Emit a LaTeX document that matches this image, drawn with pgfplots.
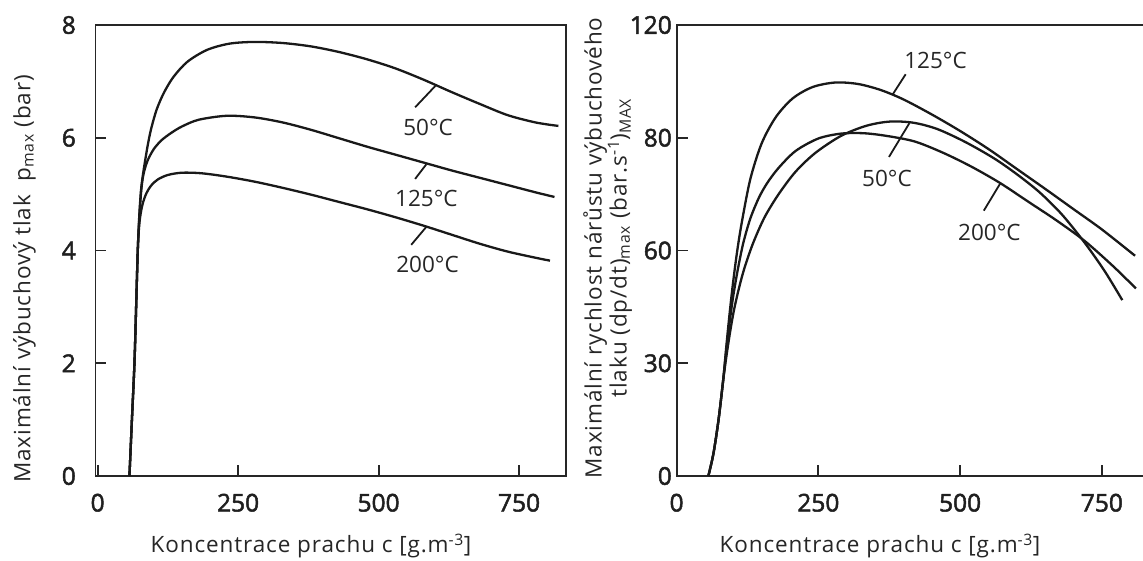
\documentclass[border=0pt]{standalone}
\usepackage{fontspec}
\setmainfont{Open Sans}[LetterSpace=4]
\newfontfamily\tickfont{Open Sans}[FakeBold=2]
\newfontfamily\labfont{Open Sans}
\usepackage{pgfplots}
\pgfplotsset{compat=1.18}
\pgfplotsset{
  myaxis/.style={
    scale only axis, height=451pt, ymin=0,
    axis line style={line width=1.8pt, color=black!85},
    tick align=inside, xtick pos=bottom, ytick pos=left,
    major tick length=11pt,
    every tick/.style={line width=1.8pt, black!85},
    tick label style={font=\tickfont\fontsize{24.5}{28}\selectfont, text=black!88},
    /pgf/number format/assume math mode=true,
    xticklabel style={anchor=base, yshift=-35.5pt, inner sep=0pt},
    xtick={0,250,500,750},
    label style={font=\fontsize{22.5}{23.5}\selectfont, text=black!85},
    clip=false,
  },
  curve/.style={line width=2.3pt, black!90, smooth, tension=0.5, no markers},
  lead/.style={line width=1.8pt, black!90, no markers},
}
\tikzset{lab/.style={font=\labfont\fontsize{22.5}{24}\selectfont, text=black!85, inner sep=0pt}}
\begin{document}
\begin{tikzpicture}
% ---------------- left panel ----------------
\begin{axis}[myaxis, at={(95.4pt,84pt)}, anchor=south west, width=470.6pt,
  xmin=-4, xmax=833.5, ymax=8, ytick={0,2,4,6,8},
  yticklabel style={anchor=east, inner sep=0pt, xshift=-19.4pt},
  xlabel={Koncentrace prachu c [g.m\textsuperscript{-3}]},
  xlabel style={at={(axis description cs:0.458,-0.1707)}, anchor=base},
  ylabel={Maximální výbuchový tlak\ \ p\textsubscript{max} (bar)},
  ylabel style={at={(axis description cs:-0.175,0.437)}, anchor=north, inner sep=0pt}]
% 50 C
\addplot[curve] coordinates {
(56.6,0) (61,1) (65.5,2) (68.5,3) (71.4,4) (74,4.6) (77,5.05) (80,5.3) (83.3,5.52)
(89,5.86) (95,6.15) (105,6.5) (118,6.8) (135,7.08) (160,7.35) (195,7.56) (235,7.67)
(280,7.70) (330,7.68) (380,7.62) (430,7.52) (480,7.39) (530,7.23) (580,7.03)
(630,6.81) (680,6.60) (730,6.40) (780,6.27) (820,6.21)};
% 125 C
\addplot[curve] coordinates {
(56.6,0) (61,1) (65.5,2) (68.5,3) (71.4,4) (74,4.55) (77,5.0) (80,5.27) (84,5.45)
(90,5.62) (100,5.8) (113,5.95) (130,6.08) (150,6.2) (180,6.32) (230,6.39) (280,6.36)
(330,6.27) (380,6.14) (430,5.99) (480,5.84) (530,5.70) (580,5.56) (630,5.42)
(680,5.29) (730,5.16) (780,5.03) (813,4.95)};
% 200 C
\addplot[curve] coordinates {
(56.6,0) (61,1) (65.5,2) (68.5,3) (71.4,4) (74,4.45) (77,4.68) (81,4.86) (87,5.02)
(95,5.15) (107,5.26) (125,5.34) (150,5.38) (185,5.37) (230,5.31) (280,5.22)
(330,5.11) (380,4.99) (430,4.86) (480,4.73) (530,4.59) (580,4.44) (630,4.28)
(680,4.12) (730,3.98) (780,3.87) (805,3.82)};
% leaders
\addplot[lead] coordinates {(565,6.54) (601,6.92)};
\addplot[lead] coordinates {(565,5.27) (585,5.53)};
\addplot[lead] coordinates {(558,4.1) (585,4.42)};
\node[lab] at (axis cs:588,6.19) {50°C};
\node[lab] at (axis cs:585,4.93) {125°C};
\node[lab] at (axis cs:587,3.75) {200°C};
\end{axis}
% ---------------- right panel ----------------
\begin{axis}[myaxis, at={(676.6pt,84pt)}, anchor=south west, width=476.3pt,
  xmin=0, xmax=840, ymax=120, ytick={0,30,60,90,120}, yticklabels={0,30,60,80,120},
  yticklabel style={anchor=east, inner sep=0pt, xshift=-4.6pt},
  xlabel={Koncentrace prachu c [g.m\textsuperscript{-3}]},
  xlabel style={at={(axis description cs:0.427,-0.1707)}, anchor=base},
  ylabel={Maximální rychlost nárůstu výbuchového\\tlaku (dp/dt)\textsubscript{max} (bar.s\textsuperscript{-1})\textsubscript{MAX}},
  ylabel style={align=center, at={(axis description cs:-0.1965,0.5055)}, anchor=north, inner sep=0pt}]
% 125 C
\addplot[curve] coordinates {
(56,0) (65,6) (74,15) (82,25.3) (88,35) (94,44) (100,52) (107,60) (115,67.5)
(130,79) (150,88.5) (175,95.5) (205,100.5) (240,103.5) (280,104.7) (320,104.3)
(360,102.7) (400,100.2) (450,96.2) (500,91.8) (550,87) (600,81.7) (650,76.4)
(700,71) (750,65.6) (808.5,58.6)};
% 200 C
\addplot[curve] coordinates {
(56,0) (65,6) (74,15) (82,25.3) (88,34) (94,41.5) (100,48) (108,55) (117.6,62)
(130,68.5) (145,74) (160,78) (180,82) (210,86.5) (250,89.8) (290,91.1) (330,91.2)
(370,90.5) (420,89) (470,86) (520,82.3) (570,78) (620,73) (670,68) (720,62.5)
(770,55.8) (810,49.9)};
% 50 C
\addplot[curve] coordinates {
(56,0) (65,6) (74,15) (82,25.3) (88,32) (94,38) (101,44) (110,50) (120,55.5)
(135,62) (155,68.8) (180,75) (210,81) (245,86) (290,90.5) (335,93.2) (376,94.3)
(417.5,94) (460,92.3) (510,88.8) (560,84.5) (600,80.3) (640,75.5) (680,69.5)
(720,62) (755,54.5) (786,46.8)};
% leaders
\addplot[lead] coordinates {(381,101.5) (404,106.9)};
\addplot[lead] coordinates {(374.6,84.9) (410.6,93.9)};
\addplot[lead] coordinates {(541.8,70.6) (571,77.9)};
\node[lab] at (axis cs:456.6,110.5) {125°C};
\node[lab] at (axis cs:371,79.3) {50°C};
\node[lab] at (axis cs:551.7,64.9) {200°C};
\end{axis}
\pgfresetboundingbox
\path[use as bounding box] (0,0) rectangle (1143pt,560pt);
\end{tikzpicture}
\end{document}
